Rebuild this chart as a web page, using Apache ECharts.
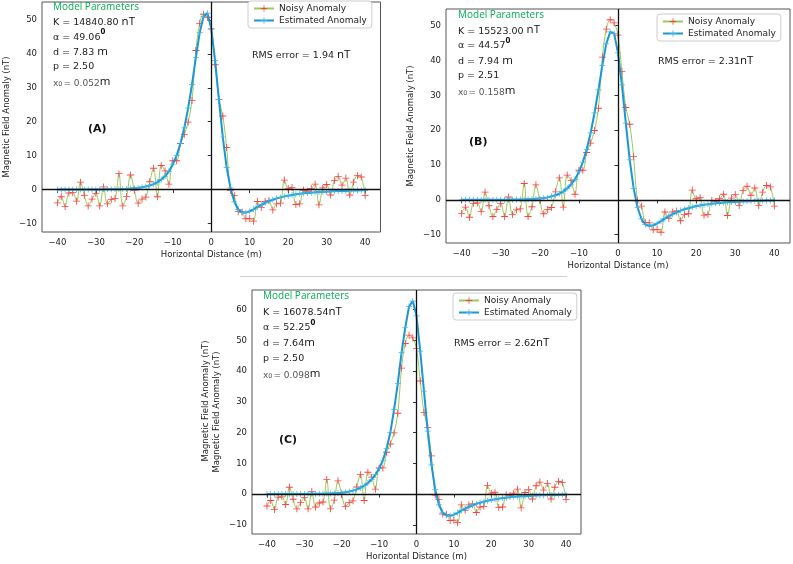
<!DOCTYPE html>
<html>
<head>
<meta charset="utf-8">
<script src="https://cdn.jsdelivr.net/npm/echarts@6/dist/echarts.min.js"></script>
<style>
html, body { margin: 0; padding: 0; background: #fff; }
#chart { width: 793px; height: 564px; }
</style>
</head>
<body>
<div id="chart"></div>
<script>
// x positions of the profile (m)
const distance = [
    -40, -39, -38, -37, -36, -35, -34, -33, -32, -31, -30, -29, -28, -27, -26, -25, -24, -23, -22, -21,
    -20, -19, -18, -17, -16, -15, -14, -13, -12, -11, -10, -9, -8, -7, -6, -5, -4, -3, -2, -1,
    0, 1, 2, 3, 4, 5, 6, 7, 8, 9, 10, 11, 12, 13, 14, 15, 16, 17, 18, 19,
    20, 21, 22, 23, 24, 25, 26, 27, 28, 29, 30, 31, 32, 33, 34, 35, 36, 37, 38, 39, 40,
];
// same noisy profile in all three panels
const noisy_anomaly = [
    -3.9, -2.1, -5.0, -1.0, -0.9, -3.4, 2.2, -1.7, -4.8, -2.8, -1.1, -4.8, 0.8, -4.2, -2.9, -2.6, 4.7, -4.8, -2.0, 4.3,
    -0.2, -4.0, -2.8, -2.2, 2.3, 6.3, -2.1, 7.1, 5.5, 1.6, 8.5, 8.5, 13.6, 16.3, 19.9, 26.3, 41.0, 49.0, 51.7, 50.8,
    47.3, 36.8, 26.5, 21.7, 12.4, -0.3, -1.8, -6.5, -6.6, -8.6, -8.5, -9.3, -3.5, -5.3, -3.5, -3.2, -6.0, -4.2, -4.0, 2.8,
    0.3, 0.6, -4.4, -4.2, -0.2, -0.5, 0.3, 1.6, -4.5, 0.5, 1.5, -1.6, 2.7, 3.9, 1.3, 3.4, -1.6, 2.2, 4.1, 3.7, -1.8,
];
const estimated_a = [
    0.0, 0.0, 0.0, 0.0, 0.0, 0.0, 0.0, 0.0, 0.0, 0.0, 0.0, 0.0, 0.1, 0.1, 0.1, 0.1, 0.1, 0.2, 0.2, 0.3,
    0.4, 0.5, 0.7, 0.9, 1.2, 1.6, 2.2, 3.0, 4.0, 5.4, 7.4, 10.0, 13.6, 18.2, 24.0, 31.0, 39.0, 46.3, 51.0, 52.0,
    47.5, 38.0, 26.5, 15.5, 6.5, 0.5, -3.6, -5.8, -6.7, -6.8, -6.4, -5.8, -5.1, -4.5, -3.9, -3.4, -3.0, -2.6, -2.3, -2.0,
    -1.8, -1.6, -1.4, -1.2, -1.1, -1.0, -0.9, -0.8, -0.7, -0.6, -0.6, -0.5, -0.5, -0.4, -0.4, -0.4, -0.3, -0.3, -0.3, -0.2, -0.2,
];
const estimated_b = [
    0.0, 0.0, 0.0, 0.0, 0.0, 0.0, 0.0, 0.0, 0.0, 0.0, 0.0, 0.0, 0.1, 0.1, 0.1, 0.1, 0.1, 0.2, 0.2, 0.3,
    0.4, 0.5, 0.7, 1.0, 1.3, 1.8, 2.4, 3.3, 4.4, 5.9, 8.0, 10.8, 14.5, 19.2, 25.0, 31.6, 38.6, 44.8, 48.2, 47.8,
    42.2, 33.0, 22.0, 11.5, 3.3, -2.2, -5.5, -7.1, -7.5, -7.3, -6.8, -6.1, -5.4, -4.7, -4.1, -3.6, -3.1, -2.7, -2.4, -2.1,
    -1.8, -1.6, -1.4, -1.3, -1.1, -1.0, -0.9, -0.8, -0.7, -0.6, -0.6, -0.5, -0.5, -0.4, -0.4, -0.3, -0.3, -0.3, -0.2, -0.2, -0.2,
];
const estimated_c = [
    0.0, 0.0, 0.0, 0.0, 0.0, 0.0, 0.0, 0.0, 0.0, 0.0, 0.0, 0.1, 0.1, 0.1, 0.1, 0.1, 0.2, 0.2, 0.3, 0.3,
    0.4, 0.6, 0.8, 1.1, 1.5, 2.0, 2.7, 3.6, 4.8, 6.3, 8.3, 11.0, 14.8, 20.0, 27.5, 36.0, 46.0, 54.2, 61.0, 62.8,
    58.0, 46.5, 33.5, 20.5, 9.5, 1.5, -3.5, -6.0, -7.0, -7.1, -6.7, -6.1, -5.4, -4.8, -4.2, -3.7, -3.2, -2.8, -2.5, -2.2,
    -1.9, -1.7, -1.5, -1.3, -1.2, -1.0, -0.9, -0.8, -0.7, -0.7, -0.6, -0.5, -0.5, -0.4, -0.4, -0.3, -0.3, -0.3, -0.2, -0.2, -0.2,
];
const estimated = [estimated_a, estimated_b, estimated_c];

const x_ticks = [-40, -30, -20, -10, 0, 10, 20, 30, 40];
const y_ticks_ab = [-10, 0, 10, 20, 30, 40, 50];
const y_ticks_c = [-10, 0, 10, 20, 30, 40, 50, 60];

const panel_tags = ["(A)", "(B)", "(C)"];
const param_k = ["14840.80 ", "15523.00 ", "16078.54"];
const param_alpha = ["49.06", "44.57", "52.25"];
const param_d = ["7.83 ", "7.94 ", "7.64"];
const param_p = ["2.50", "2.51", "2.50"];
const param_x0 = ["0.052", "0.158", "0.098"];
const rms_error = ["1.94 ", "2.31", "2.62"];

// per panel placement
const layouts = [
    { grid: { left: 42, top: 2, width: 338.5, height: 230 }, y_min: -12.5, y_max: 55.3, y_ticks: y_ticks_ab,
      legend: [248, 1], params: [53, 7, 15], tag: [88, 129], rms: [252, 55] },
    { grid: { left: 446, top: 9, width: 344, height: 234 }, y_min: -12.4, y_max: 54.8, y_ticks: y_ticks_ab,
      legend: [657, 14], params: [458, 15, 15.2], tag: [469, 142], rms: [658, 61] },
    { grid: { left: 252, top: 290, width: 329, height: 244 }, y_min: -13.0, y_max: 66.4, y_ticks: y_ticks_c,
      legend: [453, 293], params: [263, 296, 15.6], tag: [279, 440], rms: [454, 343] },
];

// thin "+" marker
const PLUS = "path://M4.4,0H5.6V4.4H10V5.6H5.6V10H4.4V5.6H0V4.4H4.4Z";
const FONT = "DejaVu Sans";
const TXT = "#222";
const minus = (v) => String(v).replace("-", "\u2212");

const rich = {
    g: { fontFamily: "Open Sans", fontSize: 10, fill: "#00b050", verticalAlign: "bottom" },
    s: { fontFamily: FONT, fontSize: 9.5, fill: "#222", verticalAlign: "bottom" },
    u: { fontFamily: "Open Sans", fontSize: 11.5, fill: "#111", verticalAlign: "bottom" },
    sup: { fontFamily: "Open Sans", fontSize: 8.5, fontWeight: "bold", fill: "#111", verticalAlign: "bottom", padding: [0, 0, 6, 0] },
    x: { fontFamily: FONT, fontSize: 9, fill: "#555", verticalAlign: "bottom" },
    sub: { fontFamily: FONT, fontSize: 6.5, fill: "#555", verticalAlign: "bottom", padding: [0, 1, 0, 0] },
    tag: { fontFamily: FONT, fontSize: 11, fontWeight: "bold", fill: "#111" },
};

function text_el(x, y, text) {
    return {
        type: "text", x, y, silent: true,
        style: { text, rich, verticalAlign: "middle", textVerticalAlign: "middle" },
    };
}

const graphics = [];
layouts.forEach((L, i) => {
    const [px, py, step] = L.params;
    graphics.push(text_el(px, py, "{g|Model Parameters}"));
    graphics.push(text_el(px, py + step, `{s|K = ${param_k[i]}}{u|nT}`));
    graphics.push(text_el(px, py + step * 2 - 2, `{s|\u03b1 = ${param_alpha[i]}}{sup|0}`));
    graphics.push(text_el(px, py + step * 3, `{s|d = ${param_d[i]}}{u|m}`));
    graphics.push(text_el(px, py + step * 4, `{s|p = ${param_p[i]}}`));
    graphics.push(text_el(px, py + step * 5, `{x|x}{sub|0}{x|= ${param_x0[i]}}{u|m}`));
    graphics.push(text_el(L.tag[0], L.tag[1], `{tag|${panel_tags[i]}}`));
    graphics.push(text_el(L.rms[0], L.rms[1], `{s|RMS error = ${rms_error[i]}}{u|nT}`));
});
// panel C carries a doubled y label
graphics.push({
    type: "text", x: 205.5, y: 401, rotation: Math.PI / 2, silent: true,
    style: { text: "Magnetic Field Anomaly (nT)", fontFamily: FONT, fontSize: 8.5, fill: TXT,
             align: "center", textAlign: "center", verticalAlign: "middle", textVerticalAlign: "middle" },
});
// thin separator between the top row and panel C
graphics.push({
    type: "line", silent: true,
    shape: { x1: 240, y1: 276.5, x2: 567, y2: 276.5 },
    style: { stroke: "#d0d0d0", lineWidth: 1 },
});

const axis_name_style = { fontFamily: FONT, fontSize: 8.5, color: TXT };
const label_style = { fontFamily: FONT, fontSize: 8.5, color: TXT };

const option = {
    animation: false,
    backgroundColor: "#fff",
    grid: layouts.map((L) => ({
        ...L.grid, show: true, borderColor: "#555", borderWidth: 1,
        backgroundColor: "transparent", outerBoundsMode: "none",
    })),
    xAxis: layouts.map((L, i) => ({
        type: "value", gridIndex: i, min: -44, max: 44,
        splitLine: { show: false },
        axisLine: { show: false },
        axisTick: { show: true, length: 3.5, lineStyle: { color: "#333" }, customValues: x_ticks },
        axisLabel: { ...label_style, margin: 6, customValues: x_ticks, formatter: minus },
        name: "Horizontal Distance (m)", nameLocation: "middle", nameGap: 18,
        nameTextStyle: axis_name_style,
    })),
    yAxis: layouts.map((L, i) => ({
        type: "value", gridIndex: i, min: L.y_min, max: L.y_max,
        splitLine: { show: false },
        axisLine: { show: false },
        axisTick: { show: true, length: 3.5, lineStyle: { color: "#333" }, customValues: L.y_ticks },
        axisLabel: { ...label_style, margin: 5, customValues: L.y_ticks, formatter: minus },
        name: "Magnetic Field Anomaly (nT)", nameLocation: "middle", nameGap: 31,
        nameTextStyle: axis_name_style,
    })),
    legend: layouts.map((L) => ({
        orient: "vertical", left: L.legend[0], top: L.legend[1],
        data: ["Noisy Anomaly", "Estimated Anomaly"],
        itemWidth: 20, itemHeight: 8, itemGap: 3,
        padding: [3, 5, 3, 5],
        backgroundColor: "#fff", borderColor: "#ccc", borderWidth: 1, borderRadius: 3,
        textStyle: { fontFamily: FONT, fontSize: 9, color: TXT },
    })),
    series: layouts.flatMap((L, i) => [
        {
            type: "line", name: "Noisy Anomaly", xAxisIndex: i, yAxisIndex: i,
            data: distance.map((x, k) => [x, noisy_anomaly[k]]),
            smooth: 0.35, symbol: PLUS, symbolSize: 7, showAllSymbol: true,
            itemStyle: { color: "#ff4040" },
            lineStyle: { color: "#9cc95c", width: 1 },
            z: 2,
            markLine: {
                silent: true, symbol: ["none", "none"], label: { show: false },
                lineStyle: { color: "#111", width: 1.3, type: "solid" },
                data: [{ xAxis: 0 }, { yAxis: 0 }],
            },
        },
        {
            type: "line", name: "Estimated Anomaly", xAxisIndex: i, yAxisIndex: i,
            data: distance.map((x, k) => [x, estimated[i][k]]),
            symbol: PLUS, symbolSize: 6, showAllSymbol: true,
            itemStyle: { color: "#3cb2e8" },
            lineStyle: { color: "#1a96d4", width: 2 },
            z: 3,
        },
    ]),
    graphic: graphics,
};

const chart = echarts.init(document.getElementById("chart"), null, { renderer: "canvas" });
chart.setOption(option);
</script>
</body>
</html>
